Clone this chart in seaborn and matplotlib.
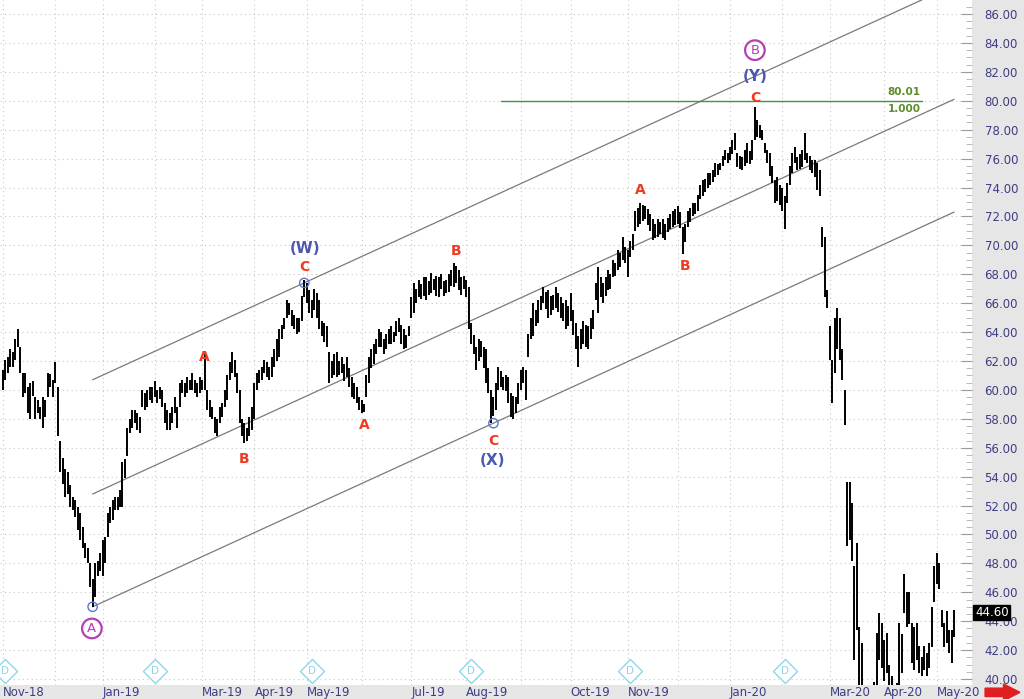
import numpy as np
import pandas as pd
import matplotlib
matplotlib.use("Agg")
import matplotlib.pyplot as plt
import matplotlib.transforms as mtransforms
from matplotlib.patches import FancyArrow
import seaborn as sns

# ---------------- data ----------------
holidays = ["2018-11-22", "2018-12-05", "2018-12-25", "2019-01-01", "2019-01-21",
            "2019-02-18", "2019-04-19", "2019-05-27", "2019-07-04", "2019-09-02",
            "2019-11-28", "2019-12-25", "2020-01-01", "2020-01-20", "2020-02-17",
            "2020-04-10"]

highs = [
    # Nov-18
    61.4, 62.1, 62.3, 62.8, 62.6, 63.5, 64.2, 63.0, 61.2, 61.2, 60.2, 60.5, 60.6, 59.5, 59.3, 58.8, 59.5, 59.3, 61.2, 61.1, 60.7,
    # Dec-18
    61.9, 60.2, 56.5, 55.3, 54.5, 54.3, 53.4, 52.6, 52.4, 51.9, 51.5, 50.5, 49.4, 49.1, 48.0, 46.9, 48.0, 48.2, 48.7,
    # Jan-19
    49.6, 49.8, 51.5, 51.9, 52.4, 52.6, 52.6, 53.1, 55.0, 55.2, 57.4, 58.0, 58.6, 58.6, 58.4, 58.1, 60.0, 59.8, 60.0, 60.2, 60.2,
    # Feb-19
    60.6, 60.0, 60.2, 60.0, 59.1, 58.6, 58.4, 58.8, 59.5, 58.8, 60.5, 60.7, 60.5, 60.9, 60.7, 61.2, 60.7, 60.5, 60.9,
    # Mar-19
    60.7, 62.5, 60.0, 59.3, 58.8, 58.1, 58.0, 58.8, 59.1, 60.0, 61.0, 61.9, 62.6, 62.1, 61.2, 60.0, 58.0, 57.7, 57.4, 58.1, 58.8,
    # Apr-19
    60.5, 61.2, 61.4, 61.6, 62.1, 61.9, 61.6, 62.3, 62.8, 63.5, 64.2, 64.5, 65.0, 66.2, 66.0, 65.5, 65.2, 65.0, 65.0, 66.5, 67.6,
    # May-19
    67.4, 66.9, 66.2, 67.0, 66.7, 66.2, 64.8, 64.6, 64.4, 62.6, 62.0, 62.5, 62.6, 62.0, 62.3, 61.8, 62.3, 61.5, 60.9, 60.5, 60.2, 59.5,
    # Jun-19
    59.3, 59.0, 61.0, 62.3, 62.8, 63.2, 63.5, 64.2, 64.0, 63.5, 63.9, 64.2, 64.4, 64.0, 64.8, 65.0, 64.5, 64.2, 63.8, 64.4,
    # Jul-19
    66.4, 67.4, 67.0, 67.6, 67.3, 67.8, 67.8, 67.5, 68.1, 67.7, 67.9, 67.8, 68.0, 67.5, 67.6, 68.0, 68.3, 68.8, 68.6, 68.3, 67.8, 67.9,
    # Aug-19
    67.6, 67.1, 64.6, 63.8, 63.0, 63.5, 63.4, 63.0, 62.8, 61.5, 60.0, 59.5, 60.5, 61.6, 61.3, 60.9, 61.0, 60.9, 59.8, 59.6, 59.5, 60.5,
    # Sep-19
    61.4, 61.6, 61.4, 63.9, 65.0, 66.0, 65.5, 66.2, 66.5, 67.1, 66.8, 66.9, 66.5, 66.6, 67.1, 66.7, 66.4, 66.0, 66.2, 65.8,
    # Oct-19
    66.7, 65.5, 64.6, 63.7, 64.2, 64.8, 64.5, 64.4, 65.0, 65.5, 67.4, 68.5, 67.8, 67.4, 67.8, 68.3, 68.0, 69.0, 68.8, 69.7, 69.5, 70.6, 69.9,
    # Nov-19
    69.7, 70.3, 70.8, 72.4, 72.6, 72.9, 72.8, 72.7, 72.5, 72.2, 71.8, 71.5, 71.8, 71.6, 71.8, 71.5, 71.9, 72.2, 72.4, 72.5,
    # Dec-19
    72.7, 72.3, 71.3, 71.5, 72.4, 72.6, 72.9, 72.9, 73.5, 74.2, 74.5, 74.6, 75.0, 75.0, 75.2, 75.7, 75.6, 75.7, 76.2, 76.6, 76.4,
    # Jan-20
    76.8, 77.3, 77.8, 76.4, 76.2, 76.1, 76.6, 77.1, 76.5, 77.3, 79.6, 78.7, 78.3, 78.0, 77.1, 76.6, 76.4, 75.5, 74.5, 74.7, 74.2,
    # Feb-20
    74.0, 73.4, 74.3, 75.5, 76.4, 76.8, 76.1, 76.3, 76.6, 77.8, 76.4, 76.2, 75.9, 75.9, 75.7, 75.2, 71.3, 70.6, 66.9,
    # Mar-20
    64.4, 62.1, 65.0, 65.7, 65.0, 62.8, 60.0, 53.6, 53.6, 52.2, 47.8, 49.4, 43.6, 42.5, 39.5, 39.0, 39.6, 39.2, 39.8, 43.2, 44.6, 43.9,
    # Apr-20
    42.7, 43.2, 41.0, 40.2, 39.5, 39.7, 43.9, 43.1, 47.3, 46.0, 46.0, 43.9, 43.6, 43.9, 42.3, 41.5, 42.3, 41.8, 42.5, 45.0, 47.8,
    # May-20
    48.7, 48.0, 44.8, 43.9, 44.7, 43.4, 43.4, 44.8,
]

lows = [
    # Nov-18
    60.0, 60.7, 61.2, 61.6, 61.6, 62.1, 63.0, 61.2, 59.5, 59.8, 58.4, 58.0, 59.6, 58.0, 58.4, 58.0, 57.4, 58.1, 59.5, 60.2, 59.5,
    # Dec-18
    60.5, 56.8, 54.3, 53.5, 52.6, 52.8, 51.9, 51.7, 51.2, 50.3, 49.6, 49.1, 48.4, 48.0, 46.4, 45.0, 45.7, 47.1, 47.5,
    # Jan-19
    47.1, 48.0, 49.8, 50.8, 51.0, 51.7, 51.7, 51.9, 51.9, 53.9, 55.4, 57.0, 57.4, 57.7, 57.2, 57.0, 58.8, 58.6, 58.8, 59.3, 59.1,
    # Feb-19
    59.5, 59.1, 59.4, 58.8, 57.7, 57.2, 57.2, 57.7, 58.4, 57.4, 58.8, 59.8, 59.5, 59.8, 60.0, 60.0, 59.8, 59.5, 59.8,
    # Mar-19
    60.0, 60.0, 58.6, 58.1, 58.0, 57.0, 56.8, 57.7, 58.1, 58.8, 59.3, 60.7, 61.2, 60.9, 59.8, 57.7, 56.8, 56.3, 56.5, 56.8, 57.2,
    # Apr-19
    58.0, 60.0, 60.5, 60.7, 61.2, 60.9, 60.7, 60.9, 61.6, 62.0, 62.3, 63.5, 64.2, 65.0, 65.2, 64.4, 64.2, 63.9, 64.0, 64.8, 66.4,
    # May-19
    66.0, 65.3, 65.0, 65.5, 65.0, 64.2, 63.7, 63.3, 63.0, 60.5, 60.8, 61.0, 60.9, 61.0, 61.2, 60.6, 60.9, 60.2, 59.5, 59.4, 59.1, 58.6,
    # Jun-19
    58.4, 58.5, 59.5, 60.5, 61.5, 61.8, 62.5, 63.0, 63.0, 62.5, 62.8, 63.2, 63.2, 63.3, 63.7, 64.0, 63.2, 62.8, 62.9, 63.7,
    # Jul-19
    65.0, 65.3, 66.0, 66.4, 66.3, 66.5, 66.2, 66.6, 66.7, 66.9, 66.5, 66.4, 67.0, 66.5, 66.7, 66.8, 67.2, 67.1, 67.4, 66.9, 66.6, 67.0,
    # Aug-19
    66.4, 64.2, 63.2, 62.5, 61.4, 62.0, 62.3, 61.5, 60.5, 59.8, 57.7, 58.2, 58.6, 60.0, 60.2, 60.0, 59.9, 59.1, 58.1, 58.0, 58.4, 59.0,
    # Sep-19
    60.0, 60.5, 59.3, 62.3, 63.5, 63.7, 64.4, 64.6, 65.5, 66.0, 65.6, 65.0, 65.2, 65.5, 65.7, 65.4, 65.0, 64.8, 64.2, 64.4,
    # Oct-19
    64.8, 63.8, 62.8, 61.6, 62.8, 63.2, 63.0, 62.8, 63.5, 64.2, 66.2, 65.3, 66.4, 66.0, 66.5, 66.9, 67.0, 67.8, 67.9, 68.3, 68.5, 69.0, 68.8,
    # Nov-19
    67.8, 69.2, 69.7, 71.0, 71.3, 71.5, 71.7, 71.8, 71.4, 71.0, 70.4, 70.5, 70.6, 70.8, 70.5, 70.4, 70.9, 71.1, 71.3, 71.4,
    # Dec-19
    71.5, 71.2, 69.4, 70.2, 71.3, 71.6, 72.0, 72.2, 72.4, 73.2, 73.4, 73.7, 74.0, 74.2, 74.4, 74.7, 74.9, 75.2, 75.5, 75.9, 75.7,
    # Jan-20
    75.9, 76.3, 76.6, 75.4, 75.3, 75.2, 75.5, 75.7, 75.6, 75.9, 77.3, 77.5, 77.4, 77.3, 76.4, 75.7, 74.8, 74.3, 72.9, 73.1, 72.8,
    # Feb-20
    72.4, 71.1, 72.9, 74.2, 75.0, 75.7, 75.2, 75.3, 75.4, 75.9, 75.7, 75.2, 75.0, 74.7, 73.8, 73.4, 69.9, 66.4, 65.7,
    # Mar-20
    62.1, 59.1, 61.2, 62.8, 62.1, 60.7, 57.6, 49.2, 49.6, 48.2, 41.3, 43.4, 38.5, 38.0, 36.0, 35.5, 36.5, 36.0, 37.0, 39.5, 41.3, 40.8,
    # Apr-20
    39.9, 40.4, 38.5, 37.5, 37.0, 37.2, 39.5, 40.4, 44.6, 43.6, 43.8, 41.1, 40.6, 41.3, 40.4, 40.2, 40.6, 40.2, 40.8, 42.2, 45.3,
    # May-20
    46.6, 46.2, 43.6, 42.2, 42.5, 41.8, 41.1, 42.9,
]

last_price = 44.60

# channel (parallel lines): start / end bar and prices
chan_idx = [36, 382]
chan_lower = [45.0, 72.3]
chan_mid = [52.8, 80.1]
chan_upper = [60.7, 88.0]

fib_idx = [200, 369]
fib_level = 80.01

shown_months = ["Nov-18", "Jan-19", "Mar-19", "Apr-19", "May-19", "Jul-19", "Aug-19",
                "Oct-19", "Nov-19", "Jan-20", "Mar-20", "Apr-20", "May-20"]

# wave labels: (text, bar index, price, kind)
wave_labels = [
    ("A", 80.7, 62.3, "red"), ("B", 96.8, 55.2, "red"), ("C", 121.0, 68.5, "red"),
    ("(W)", 121.3, 69.8, "blue"), ("A", 145.0, 57.6, "red"), ("B", 182.0, 69.6, "red"),
    ("C", 196.8, 56.5, "red"), ("(X)", 196.8, 55.1, "blue"), ("A", 255.8, 73.8, "red"),
    ("B", 273.9, 68.6, "red"), ("C", 302.0, 80.2, "red"), ("(Y)", 302.0, 81.7, "blue"),
    ("A", 35.7, 43.5, "circle"), ("B", 302.0, 83.5, "circle"),
]
pivot_idx = [36, 121, 197]
pivot_price = [45.0, 67.4, 57.7]
dividend_idx = [1, 61, 124, 188, 252, 314]

# ---------------- figure ----------------
sns.set_theme(style="white")
plt.rcParams["font.family"] = ["DejaVu Sans"]

cal = pd.offsets.CustomBusinessDay(holidays=pd.to_datetime(holidays))
dates = pd.date_range("2018-11-01", periods=len(highs), freq=cal)
df = pd.DataFrame({"date": dates, "high": highs, "low": lows})
df["idx"] = np.arange(len(df))

fig = plt.figure(figsize=(10.24, 6.99), dpi=100, facecolor="#e6e6e6")
ax = fig.add_axes([0, 14 / 699, 972 / 1024, 685 / 699])
ax.set_facecolor("white")

ylo, yhi = 39.59, 86.97
ax.set_ylim(ylo, yhi)
ax.set_xlim(-1.2, 389.2)

# grid
month_start = df.groupby(df["date"].dt.to_period("M"))["idx"].min()
for p, i0 in month_start.items():
    ax.axvline(i0, color="#c8c8c8", lw=0.8, ls=(0, (1, 3)), zorder=0)
for v in np.arange(40, 87, 2):
    ax.axhline(v, color="#c8c8c8", lw=0.8, ls=(0, (1, 3)), zorder=0)

# price bars
ax.vlines(df["idx"], df["low"], df["high"], color="black", lw=1.4, zorder=3)

# channel lines via seaborn
chan_df = pd.DataFrame({"idx": chan_idx * 3,
                        "price": chan_lower + chan_mid + chan_upper,
                        "line": ["lower"] * 2 + ["mid"] * 2 + ["upper"] * 2})
sns.lineplot(data=chan_df, x="idx", y="price", units="line", estimator=None,
             color="#7a7a7a", lw=0.9, ax=ax, zorder=2)
fib_df = pd.DataFrame({"idx": fib_idx, "price": [fib_level] * 2})
sns.lineplot(data=fib_df, x="idx", y="price", color="#3c9a3c", lw=1.0, ax=ax, zorder=2)
ax.text(fib_idx[1] - 0.5, fib_level + 0.25, f"{fib_level:.2f}", color="#5e8c2a",
        fontsize=7.5, fontweight="bold", ha="right", va="bottom", zorder=5)
ax.text(fib_idx[1] - 0.5, fib_level - 0.25, "1.000", color="#5e8c2a",
        fontsize=7.5, fontweight="bold", ha="right", va="top", zorder=5)

# pivots
ax.scatter(pivot_idx, pivot_price, s=45, facecolors="none", edgecolors="#5a78d0",
           linewidths=1.0, zorder=4)

# wave labels
for txt, xi, yv, kind in wave_labels:
    if kind == "red":
        ax.text(xi, yv, txt, color="#f03a22", fontsize=10, fontweight="bold",
                ha="center", va="center", zorder=6)
    elif kind == "blue":
        ax.text(xi, yv, txt, color="#4a58b0", fontsize=11, fontweight="bold",
                ha="center", va="center", zorder=6)
    else:
        ax.text(xi, yv, txt, color="#b53fb5", fontsize=9.5, ha="center", va="center",
                zorder=6, bbox=dict(boxstyle="circle,pad=0.25", fc="white",
                                    ec="#b53fb5", lw=1.6))

# dividend diamonds
trans_xa = mtransforms.blended_transform_factory(ax.transData, ax.transAxes)
for xi in dividend_idx:
    ax.scatter([xi], [0.0205], marker="D", s=150, facecolors="white",
               edgecolors="#8fd6e8", linewidths=1.0, transform=trans_xa, zorder=5,
               clip_on=False)
    ax.text(xi, 0.0205, "D", transform=trans_xa, color="#8fd6e8", fontsize=7.5,
            ha="center", va="center", zorder=6)

# y axis on the right
ax.yaxis.tick_right()
ax.set_yticks(np.arange(40, 87, 2))
ax.set_yticks(np.arange(40, 87, 0.5), minor=True)
ax.set_yticklabels([f"{v:.2f}" for v in np.arange(40, 87, 2)])
ax.tick_params(axis="y", which="major", direction="in", length=8, width=0.8,
               color="#9a9a9a", labelcolor="#3d3d85", labelsize=8.5, pad=9)
ax.tick_params(axis="y", which="minor", direction="in", length=4, width=0.6,
               color="#b0b0b0")
ax.tick_params(axis="y", which="both", left=False, right=True)
ax.set_xticks([])
ax.set_xlabel("")
ax.set_ylabel("")
for s in ax.spines.values():
    s.set_visible(False)

# month labels
for lab in shown_months:
    per = pd.Period(pd.to_datetime(lab, format="%b-%y"), "M")
    if per in month_start.index:
        i0 = month_start[per]
        ax.text(i0, -0.002, lab, transform=trans_xa, color="#3d3d85", fontsize=8.5,
                ha="left", va="top", clip_on=False)

# last price tag (drawn over the 44.00 label, as in the reference)
trans_ay = mtransforms.blended_transform_factory(ax.transAxes, ax.transData)
ax.text(1.003, last_price, f"{last_price:.2f}", transform=trans_ay, color="white",
        fontsize=8.5, ha="left", va="center", zorder=7,
        bbox=dict(boxstyle="square,pad=0.12", fc="black", ec="black"))

# red arrow bottom right
fig.patches.append(FancyArrow(0.962, 0.0095, 0.034, 0, width=0.012, head_width=0.024,
                              head_length=0.016, length_includes_head=True,
                              transform=fig.transFigure, color="#e02020", figure=fig))

fig.savefig("out.png", dpi=100, facecolor=fig.get_facecolor())
